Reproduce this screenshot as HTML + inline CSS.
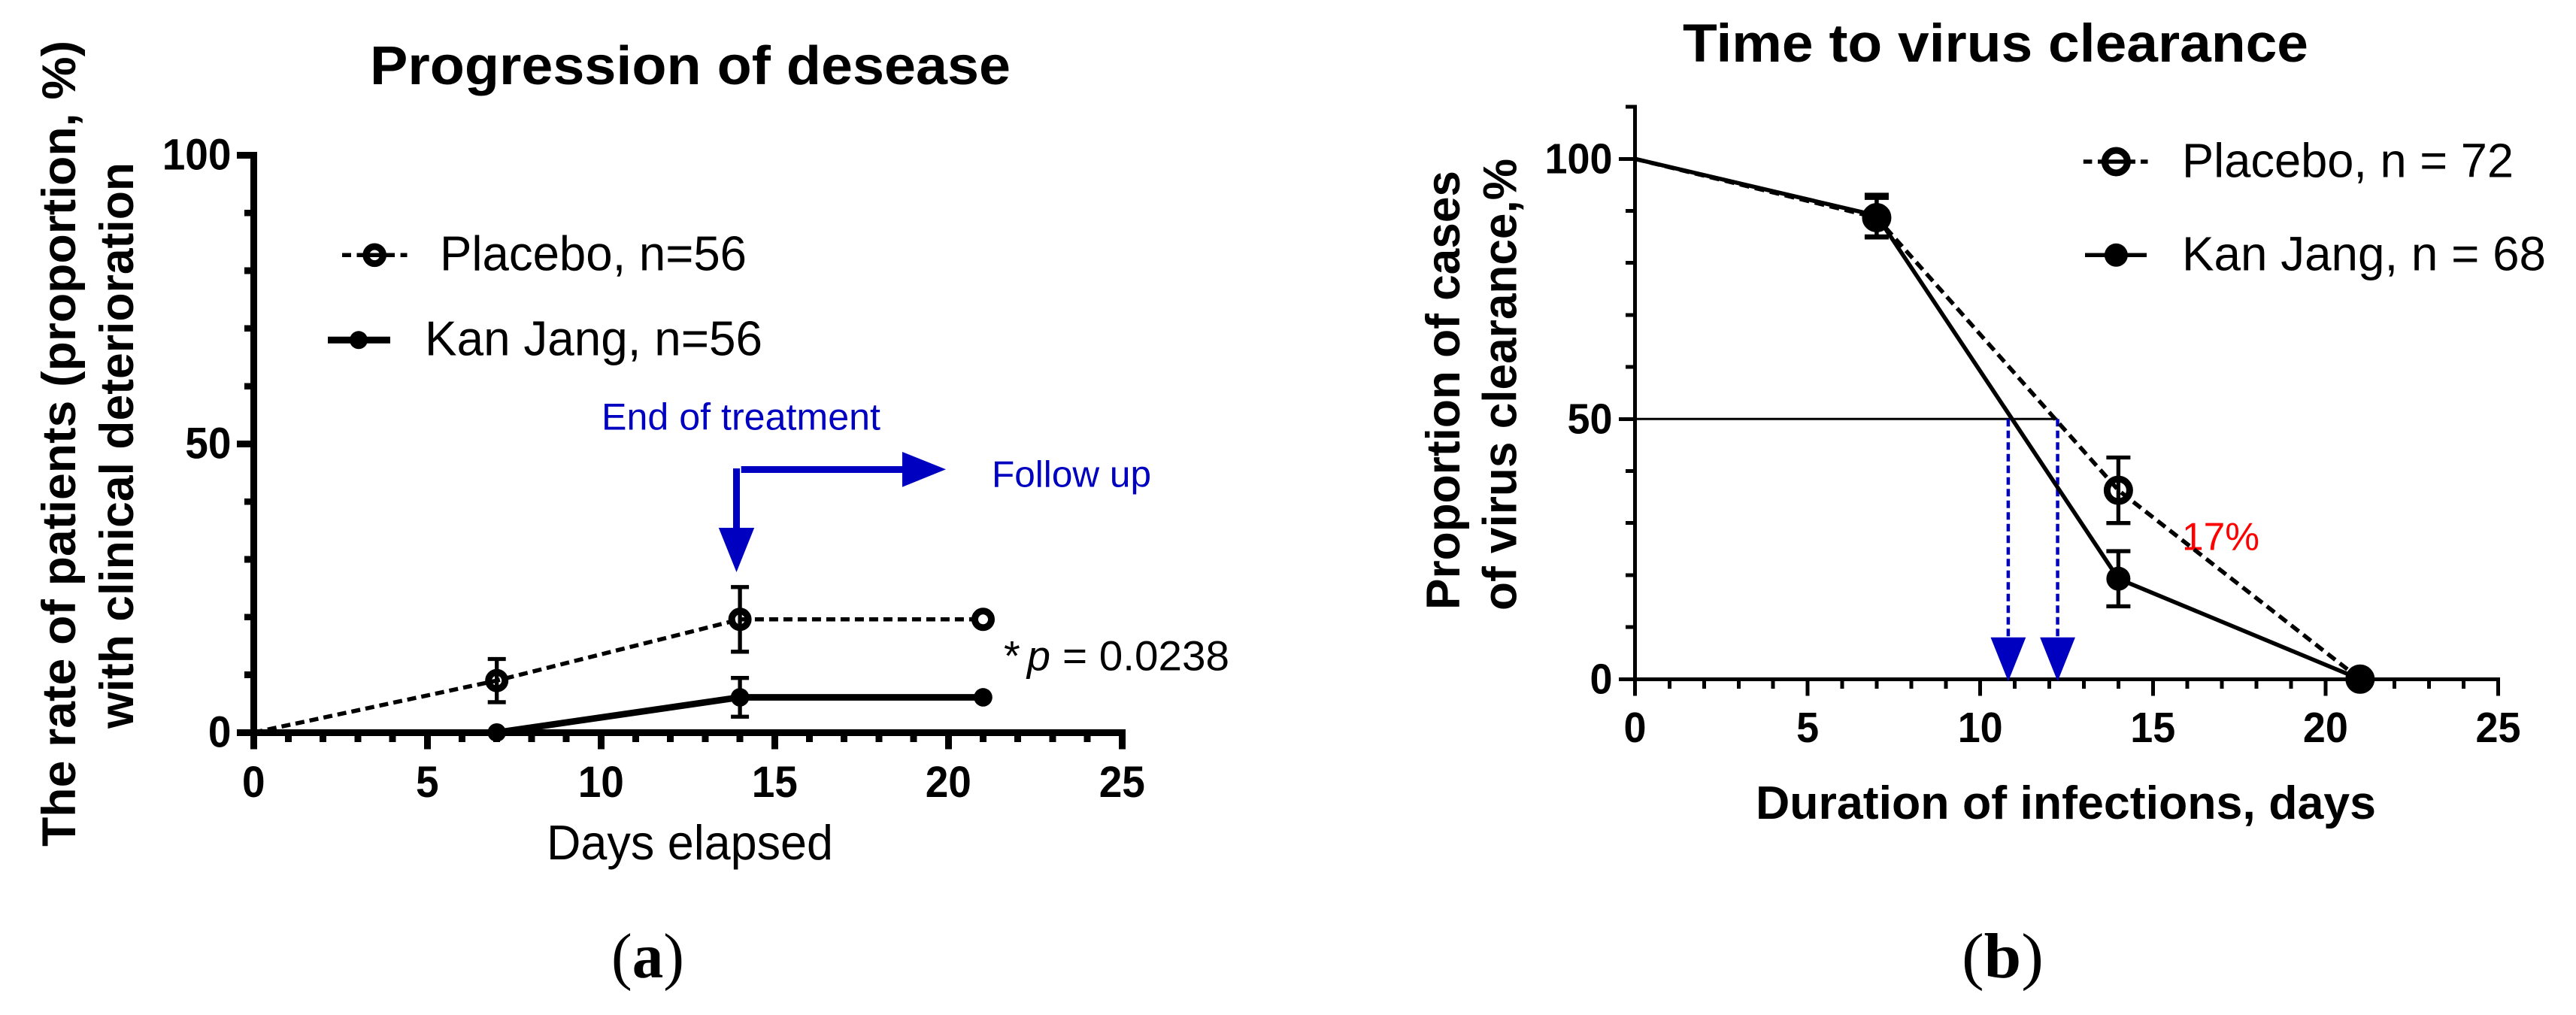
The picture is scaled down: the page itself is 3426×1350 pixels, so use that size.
<!DOCTYPE html>
<html lang="en">
<head>
<meta charset="utf-8">
<title>Progression of desease and time to virus clearance</title>
<style>
html,body{margin:0;padding:0;background:#fff}
svg{display:block}
text{font-family:"Liberation Sans",Arial,sans-serif;fill:#000}
.b{font-weight:bold}
.serif{font-family:"Liberation Serif",serif}
.blue{fill:#0000c0}
</style>
</head>
<body>
<svg id="figure" xmlns="http://www.w3.org/2000/svg" width="3426" height="1350" viewBox="0 0 3426 1350">
<rect x="0" y="0" width="3426" height="1350" fill="#fff"/>

<g id="panel-a">
  <text class="b" x="492" y="112" font-size="72" textLength="852" lengthAdjust="spacingAndGlyphs">Progression of desease</text>
  <text class="b" transform="translate(100,1126) rotate(-90)" font-size="63" textLength="1072" lengthAdjust="spacingAndGlyphs">The rate of patients (proportion, %)</text>
  <text class="b" transform="translate(177,969) rotate(-90)" font-size="63" textLength="753" lengthAdjust="spacingAndGlyphs">with clinical deterioration</text>
  <text x="727" y="1143" font-size="65" textLength="381" lengthAdjust="spacingAndGlyphs">Days elapsed</text>
  <text class="serif" x="813" y="1300" font-size="85" textLength="97" lengthAdjust="spacingAndGlyphs">(<tspan class="b serif" font-weight="bold">a</tspan>)</text>

  <g>
    <g>
      <path d="M455 339.3H467M474.5 339.3H525M532.6 339.3H541.5" stroke="#000" stroke-width="5.5" fill="none"/>
      <circle cx="498.2" cy="339.3" r="11.3" fill="none" stroke="#000" stroke-width="9"/>
      <text x="585" y="359.5" font-size="65" textLength="408" lengthAdjust="spacingAndGlyphs">Placebo, n=56</text>
    </g>
    <g>
      <line x1="436" y1="452.3" x2="519" y2="452.3" stroke="#000" stroke-width="9"/>
      <circle cx="477" cy="452.3" r="12" fill="#000"/>
      <text x="565" y="472.3" font-size="65" textLength="449" lengthAdjust="spacingAndGlyphs">Kan Jang, n=56</text>
    </g>
  </g>

  <g>
    <text class="blue" x="800" y="571.7" font-size="50" textLength="371" lengthAdjust="spacingAndGlyphs">End of treatment</text>
    <rect x="975" y="623" width="9" height="80" fill="#0000c0"/>
    <polygon points="955.8,702 1003.2,702 979.5,761" fill="#0000c0"/>
    <rect x="985.7" y="620" width="215" height="9" fill="#0000c0"/>
    <polygon points="1200,601 1258,624.3 1200,647.7" fill="#0000c0"/>
    <text class="blue" x="1319" y="647.7" font-size="49" textLength="212" lengthAdjust="spacingAndGlyphs">Follow up</text>
  </g>

  <g>
    <text x="1335" y="891.7" font-size="56">*</text>
    <text x="1366" y="891.7" font-size="56" font-style="italic" textLength="31" lengthAdjust="spacingAndGlyphs">p</text>
    <text x="1413" y="891.7" font-size="56" textLength="222" lengthAdjust="spacingAndGlyphs">= 0.0238</text>
  </g>
</g>

<g id="panel-b">
  <text class="b" x="2238" y="82" font-size="71" textLength="832" lengthAdjust="spacingAndGlyphs">Time to virus clearance</text>
  <text class="b" transform="translate(1941,811) rotate(-90)" font-size="63" textLength="584" lengthAdjust="spacingAndGlyphs">Proportion of cases</text>
  <text class="b" transform="translate(2016.5,812) rotate(-90)" font-size="63" textLength="601" lengthAdjust="spacingAndGlyphs">of virus clearance,%</text>
  <text class="b" x="2335" y="1089" font-size="62" textLength="825" lengthAdjust="spacingAndGlyphs">Duration of infections, days</text>
  <text class="serif" x="2609" y="1300" font-size="85" textLength="109" lengthAdjust="spacingAndGlyphs">(<tspan class="b serif" font-weight="bold">b</tspan>)</text>

  <g>
    <g>
      <path d="M2770.8 215H2782.4M2790 215H2840M2847 215H2856.5" stroke="#000" stroke-width="5.5" fill="none"/>
      <circle cx="2814.4" cy="215" r="15" fill="none" stroke="#000" stroke-width="9"/>
      <text x="2902" y="235.7" font-size="64" textLength="441" lengthAdjust="spacingAndGlyphs">Placebo, n = 72</text>
    </g>
    <g>
      <line x1="2773" y1="339.3" x2="2855" y2="339.3" stroke="#000" stroke-width="5.5"/>
      <circle cx="2814.4" cy="339.3" r="15.5" fill="#000"/>
      <text x="2902" y="359.7" font-size="64" textLength="484" lengthAdjust="spacingAndGlyphs">Kan Jang, n = 68</text>
    </g>
  </g>

  <text x="2902" y="731.7" font-size="52" style="fill:#ff0000" textLength="103" lengthAdjust="spacingAndGlyphs">17%</text>
</g>

<g id="marks-a"></g>
<g id="marks-b"></g>
</svg>

<script>
// ---- Chart (a) data ----
const aDays = [0, 7, 14, 21];
const aPlacebo = [0, 9, 19.6, 19.6];
const aPlaceboErr = [0, 3.74, 5.6, 0];
const aKanJang = [0, 0, 6.1, 6.1];
const aKanJangErr = [0, 0, 3.36, 0];
const aXTickLabels = [0, 5, 10, 15, 20, 25];
const aYTickLabels = [0, 50, 100];

// ---- Chart (b) data ----
const bDays = [0, 7, 14, 21];
const bPlacebo = [100, 88.7, 36.3, 0];
const bPlaceboErr = [0, 3.8, 6.3, 0];
const bKanJang = [100, 89.1, 19.3, 0];
const bKanJangErr = [0, 4, 5.3, 0];
const bXTickLabels = [0, 5, 10, 15, 20, 25];
const bYTickLabels = [0, 50, 100];
const bMedianDays = [10.81, 12.24];
const bMedianLevel = [50];

const SVGNS = 'http://www.w3.org/2000/svg';
function mk(parent, tag, attrs, text) {
  const el = document.createElementNS(SVGNS, tag);
  for (const k in attrs) el.setAttribute(k, attrs[k]);
  if (text !== undefined) el.textContent = text;
  parent.appendChild(el);
  return el;
}

function drawAxes(root, cfg) {
  const { x, y, xMax, yMax, yMinorStep, sw, swMinor, xMajorLen, xMinorLen, yMajorLen, yMinorLen, xLabels, yLabels, font, xBase, yRight, yOffset, labelW } = cfg;
  const crisp = 'crispEdges';

  const axisG = mk(root, 'g', {});
  
  

  const yAxis = mk(axisG, 'line', { x1: x(0), x2: x(0), y1: y(yMax) - swMinor / 2, y2: y(0) + xMajorLen, stroke: '#000', 'stroke-width': sw, 'shape-rendering': crisp });
  
  

  const xAxis = mk(axisG, 'line', { x1: x(0) - yMajorLen, x2: x(xMax) + sw / 2, y1: y(0), y2: y(0), stroke: '#000', 'stroke-width': sw, 'shape-rendering': crisp });
  
  

  for (let d = 1; d <= xMax; d++) {
    const major = xLabels.indexOf(d) >= 0;
    const t = mk(axisG, 'line', { x1: x(d), x2: x(d), y1: y(0), y2: y(0) + (major ? xMajorLen : xMinorLen), stroke: '#000', 'stroke-width': sw, 'shape-rendering': crisp });
    
    
  }
  for (let v = yMinorStep; v <= yMax; v += yMinorStep) {
    const major = yLabels.indexOf(v) >= 0;
    const t = mk(axisG, 'line', { x1: x(0) - (major ? yMajorLen : yMinorLen), x2: x(0), y1: y(v), y2: y(v), stroke: '#000', 'stroke-width': swMinor, 'shape-rendering': crisp });
    
    
  }
  xLabels.forEach(function (d) {
    const s = String(d);
    const t = mk(axisG, 'text', { class: 'b', x: x(d), y: xBase, 'font-size': font, 'text-anchor': 'middle', textLength: s.length * labelW, lengthAdjust: 'spacingAndGlyphs' }, s);
    
    
  });
  yLabels.forEach(function (v) {
    const s = String(v);
    const t = mk(axisG, 'text', { class: 'b', x: yRight, y: y(v) + yOffset, 'font-size': font, 'text-anchor': 'end', textLength: s.length * labelW, lengthAdjust: 'spacingAndGlyphs' }, s);
    
    
  });
}

function points(xs, ys, x, y) {
  return xs.map(function (d, i) { return x(d) + ',' + y(ys[i]); }).join(' ');
}

function drawErrors(root, days, vals, errs, x, y, capHalf, name) {
  days.forEach(function (d, i) {
    if (!errs[i]) return;
    const p = 'M' + (x(d) - capHalf) + ' ' + y(vals[i] + errs[i]) + 'H' + (x(d) + capHalf) +
      'M' + x(d) + ' ' + y(vals[i] + errs[i]) + 'V' + y(vals[i] - errs[i]) +
      'M' + (x(d) - capHalf) + ' ' + y(vals[i] - errs[i]) + 'H' + (x(d) + capHalf);
    const eb = mk(root, 'path', { d: p, fill: 'none', stroke: '#000', 'stroke-width': 5.3 });
    
    
  });
}

// ---- Chart (a) ----
(function () {
  const root = document.getElementById('marks-a');
  const x = function (d) { return 337.3 + d * 46.2; };
  const y = function (v) { return 974.3 - v * 7.678; };
  drawAxes(root, { x: x, y: y, xMax: 25, yMax: 100, yMinorStep: 10, sw: 9, swMinor: 8.7, xMajorLen: 22, xMinorLen: 12.5, yMajorLen: 22.5, yMinorLen: 12.5, xLabels: aXTickLabels, yLabels: aYTickLabels, font: 58, xBase: 1060, yRight: 307.5, yOffset: 19, labelW: 30.6 });

  const lineP = mk(root, 'polyline', { points: points(aDays, aPlacebo, x, y), fill: 'none', stroke: '#000', 'stroke-width': 5.5, 'stroke-dasharray': '12 7' });
  
  

  drawErrors(root, aDays, aPlacebo, aPlaceboErr, x, y, 12, 'error-bar-a-placebo');
  drawErrors(root, aDays, aKanJang, aKanJangErr, x, y, 12, 'error-bar-a-kan-jang');

  aDays.forEach(function (d, i) {
    if (d === 0) return;
    const c = mk(root, 'circle', { cx: x(d), cy: y(aPlacebo[i]), r: 11, fill: 'none', stroke: '#000', 'stroke-width': 9 });
    
    
  });

  const lineK = mk(root, 'polyline', { points: points(aDays, aKanJang, x, y), fill: 'none', stroke: '#000', 'stroke-width': 8.7 });
  
  

  aDays.forEach(function (d, i) {
    if (d === 0) return;
    const c = mk(root, 'circle', { cx: x(d), cy: y(aKanJang[i]), r: 12.3, fill: '#000' });
    
    
  });
})();

// ---- Chart (b) ----
(function () {
  const root = document.getElementById('marks-b');
  const x = function (d) { return 2174.5 + d * 45.92; };
  const y = function (v) { return 903.3 - v * 6.92; };
  drawAxes(root, { x: x, y: y, xMax: 25, yMax: 110, yMinorStep: 10, sw: 5, swMinor: 5, xMajorLen: 22, xMinorLen: 12.5, yMajorLen: 21.5, yMinorLen: 12.5, xLabels: bXTickLabels, yLabels: bYTickLabels, font: 57, xBase: 987, yRight: 2144.5, yOffset: 19, labelW: 30 });

  const maxMedian = Math.max.apply(null, bMedianDays);
  const ref = mk(root, 'line', { x1: x(0), x2: x(maxMedian), y1: y(bMedianLevel[0]), y2: y(bMedianLevel[0]), stroke: '#000', 'stroke-width': 3 });
  
  

  bMedianDays.forEach(function (d) {
    const l = mk(root, 'line', { x1: x(d), x2: x(d), y1: y(bMedianLevel[0]), y2: y(0) - 40, stroke: '#0000c0', 'stroke-width': 4.5, 'stroke-dasharray': '10 5.5' });
    
    
    const h = mk(root, 'polygon', { points: (x(d) - 23.4) + ',' + (y(0) - 55.5) + ' ' + (x(d) + 23.4) + ',' + (y(0) - 55.5) + ' ' + x(d) + ',' + (y(0) + 3), fill: '#0000c0' });
    
    
  });

  const lineP = mk(root, 'polyline', { points: points(bDays, bPlacebo, x, y), fill: 'none', stroke: '#000', 'stroke-width': 5.5, 'stroke-dasharray': '13 7.5' });
  
  

  const lineK = mk(root, 'polyline', { points: points(bDays, bKanJang, x, y), fill: 'none', stroke: '#000', 'stroke-width': 5.5 });
  
  

  drawErrors(root, bDays, bPlacebo, bPlaceboErr, x, y, 16, 'error-bar-b-placebo');
  drawErrors(root, bDays, bKanJang, bKanJangErr, x, y, 16, 'error-bar-b-kan-jang');

  bDays.forEach(function (d, i) {
    if (d === 0) return;
    const c = mk(root, 'circle', { cx: x(d), cy: y(bPlacebo[i]), r: 15, fill: 'none', stroke: '#000', 'stroke-width': 9 });
    
    
  });
  bDays.forEach(function (d, i) {
    if (d === 0) return;
    const c = mk(root, 'circle', { cx: x(d), cy: y(bKanJang[i]), r: 16, fill: '#000' });
    
    
  });
})();
</script>
</body>
</html>
